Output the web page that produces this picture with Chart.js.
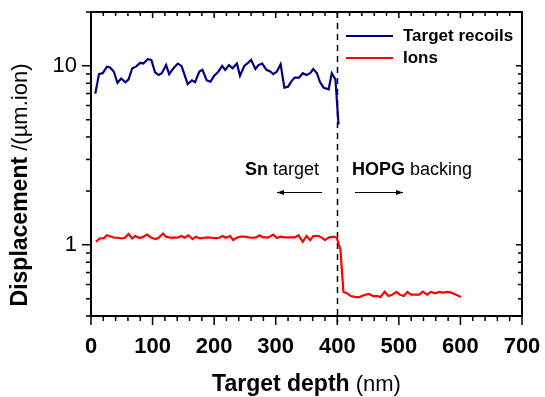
<!DOCTYPE html>
<html>
<head>
<meta charset="utf-8">
<title>Displacement vs target depth</title>
<script src="https://cdn.jsdelivr.net/npm/chart.js@4/dist/chart.umd.min.js"></script>
<style>
  body { margin: 0; background: #fff; }
</style>
</head>
<body>
<canvas id="myChart" width="545" height="397"></canvas>
<script>
// data (depth in nm, displacement per um per ion)
const recoilDepth = [7,13,19,26,31,37,43,49,56,61,67,73,80,85,92,98,104,110,115,122,
  127,134,141,147,152,157,164,169,176,181,188,194,200,206,213,218,224,230,237,242,
  249,255,260,267,272,278,285,291,296,302,308,314,320,326,331,338,344,350,356,361,
  367,372,378,386,391,397,402];
const recoils = [7.0,9.0,9.1,9.9,9.8,9.3,8.05,8.5,8.1,8.4,9.7,9.9,10.4,10.3,10.9,10.8,9.2,8.9,9.1,10.1,
  9.0,9.7,10.3,10.0,8.9,7.9,8.3,8.1,9.3,9.5,8.3,8.15,8.8,9.2,10.0,9.5,10.1,9.7,10.3,8.8,
  10.0,10.4,10.8,9.6,10.1,10.3,9.5,9.3,9.0,9.3,10.2,7.55,7.65,8.25,8.6,8.6,9.1,8.9,9.1,9.6,
  9.1,8.1,7.55,7.4,9.1,8.4,4.7];

const ionDepth = [8,14,21,26,33,38,44,50,55,61,67,72,79,85,91,98,105,110,117,122,
  129,135,140,147,152,158,165,170,177,184,189,196,203,208,214,219,226,231,238,244,
  250,256,263,268,274,279,288,296,302,308,315,323,331,337,344,350,356,361,370,374,
  380,387,394,399,405,410,416,422,430,436,443,451,458,465,470,477,483,489,496,502,
  508,514,520,526,533,539,546,552,559,565,572,579,585,593,601];
const ions = [1.04,1.085,1.09,1.13,1.11,1.095,1.095,1.085,1.095,1.15,1.085,1.12,1.09,1.11,1.14,1.095,1.076,1.095,1.157,1.11,
  1.095,1.10,1.095,1.12,1.095,1.13,1.076,1.11,1.085,1.095,1.10,1.095,1.09,1.095,1.12,1.095,1.12,1.063,1.10,1.11,
  1.11,1.10,1.095,1.10,1.13,1.10,1.10,1.14,1.09,1.11,1.10,1.10,1.10,1.13,1.04,1.12,1.063,1.12,1.12,1.10,
  1.063,1.10,1.11,1.095,0.946,0.547,0.535,0.517,0.51,0.51,0.522,0.532,0.517,0.517,0.51,0.547,0.517,0.525,0.545,0.525,
  0.517,0.545,0.527,0.527,0.527,0.547,0.527,0.545,0.535,0.545,0.54,0.545,0.54,0.525,0.51];

const xTicks = [0, 100, 200, 300, 400, 500, 600, 700];
const yTicks = [1, 10];
const interfaceDepth = 400;

const FONT = '"Liberation Sans", Arial, sans-serif';

function pairs(xs, ys) {
  return xs.map((x, i) => ({ x: x, y: ys[i] }));
}

// draws text made of bold / normal pieces on one line
function richText(ctx, parts, x, y, align) {
  let total = 0;
  parts.forEach(p => {
    ctx.font = (p.bold ? 'bold ' : '') + p.size + 'px ' + FONT;
    p.w = ctx.measureText(p.t).width;
    total += p.w;
  });
  let cx = align === 'center' ? x - total / 2 : x;
  ctx.textAlign = 'left';
  parts.forEach(p => {
    ctx.font = (p.bold ? 'bold ' : '') + p.size + 'px ' + FONT;
    ctx.fillText(p.t, cx, y);
    cx += p.w;
  });
}

function arrow(ctx, x1, x2, y) {
  ctx.beginPath();
  ctx.moveTo(x1, y);
  ctx.lineTo(x2, y);
  ctx.stroke();
  const d = x2 > x1 ? 1 : -1;
  ctx.beginPath();
  ctx.moveTo(x2, y);
  ctx.lineTo(x2 - d * 7, y - 2.5);
  ctx.lineTo(x2 - d * 7, y + 2.5);
  ctx.closePath();
  ctx.fill();
}

const decor = {
  id: 'decor',
  beforeDatasetsDraw(chart) {
    const ctx = chart.ctx, a = chart.chartArea;
    const xs = chart.scales.x;
    // interface line
    ctx.save();
    ctx.strokeStyle = '#000';
    ctx.lineWidth = 1.5;
    ctx.setLineDash([6, 5]);
    const px = Math.round(xs.getPixelForValue(interfaceDepth)) + 0.5;
    ctx.beginPath();
    ctx.moveTo(px, a.top);
    ctx.lineTo(px, a.bottom + 6);
    ctx.stroke();
    ctx.restore();
  },
  afterDraw(chart) {
    const ctx = chart.ctx, a = chart.chartArea;
    const xs = chart.scales.x, ys = chart.scales.y;
    ctx.save();
    ctx.strokeStyle = '#000';
    ctx.fillStyle = '#000';
    ctx.lineWidth = 2;
    ctx.strokeRect(a.left, a.top, a.right - a.left, a.bottom - a.top);

    // x ticks
    ctx.lineWidth = 1.5;
    for (let v = 0; v <= 700; v += 20) {
      const px = xs.getPixelForValue(v);
      const major = v % 100 === 0;
      ctx.beginPath();
      ctx.moveTo(px, a.bottom);
      ctx.lineTo(px, a.bottom + (major ? 9 : 5));
      ctx.moveTo(px, a.top);
      ctx.lineTo(px, a.top + (major ? 6 : 4));
      ctx.stroke();
    }
    // y ticks (log)
    const yMinor = [0.4, 0.5, 0.6, 0.7, 0.8, 0.9, 2, 3, 4, 5, 6, 7, 8, 9, 20];
    yMinor.concat(yTicks).forEach(v => {
      const py = ys.getPixelForValue(v);
      const major = yTicks.includes(v);
      ctx.beginPath();
      ctx.moveTo(a.left, py);
      ctx.lineTo(a.left - (major ? 9 : 5), py);
      ctx.moveTo(a.right, py);
      ctx.lineTo(a.right - (major ? 6 : 4), py);
      ctx.stroke();
    });

    // tick labels
    ctx.textBaseline = 'middle';
    ctx.textAlign = 'center';
    ctx.font = 'bold 22px ' + FONT;
    xTicks.forEach(v => ctx.fillText(String(v), xs.getPixelForValue(v), 347));
    ctx.textAlign = 'right';
    ctx.font = '22px ' + FONT;
    yTicks.forEach(v => ctx.fillText(String(v), a.left - 14, ys.getPixelForValue(v)));

    // axis titles
    richText(ctx, [{ t: 'Target depth', bold: true, size: 23 }, { t: ' (nm)', bold: false, size: 22 }],
      (a.left + a.right) / 2, 385, 'center');
    ctx.save();
    ctx.translate(21, 185);
    ctx.rotate(-Math.PI / 2);
    richText(ctx, [{ t: 'Displacement', bold: true, size: 23 }, { t: ' /(\u00b5m.ion)', bold: false, size: 22 }],
      0, 0, 'center');
    ctx.restore();

    // legend
    ctx.lineWidth = 2;
    [['Target recoils', '#000080', 36], ['Ions', '#ff0000', 58]].forEach(l => {
      ctx.strokeStyle = l[1];
      ctx.beginPath();
      ctx.moveTo(346, l[2]);
      ctx.lineTo(393, l[2]);
      ctx.stroke();
      ctx.fillStyle = '#000';
      ctx.font = 'bold 17px ' + FONT;
      ctx.textAlign = 'left';
      ctx.fillText(l[0], 403, l[2]);
    });

    // region annotations
    ctx.fillStyle = '#000';
    richText(ctx, [{ t: 'Sn', bold: true, size: 18 }, { t: ' target', bold: false, size: 18 }], 245, 170, 'left');
    richText(ctx, [{ t: 'HOPG', bold: true, size: 18 }, { t: ' backing', bold: false, size: 18 }], 352, 170, 'left');
    ctx.strokeStyle = '#000';
    ctx.lineWidth = 1;
    arrow(ctx, 322, 277, 192.5);
    arrow(ctx, 355, 403, 192.5);
    ctx.restore();
  }
};

const ctx = document.getElementById('myChart').getContext('2d');
new Chart(ctx, {
  type: 'line',
  data: {
    datasets: [
      { label: 'Target recoils', data: pairs(recoilDepth, recoils), borderColor: '#000080', borderWidth: 2.2, pointRadius: 0, tension: 0, fill: false },
      { label: 'Ions', data: pairs(ionDepth, ions), borderColor: '#ff0000', borderWidth: 2.2, pointRadius: 0, tension: 0, fill: false }
    ]
  },
  options: {
    responsive: false,
    animation: false,
    layout: { padding: { left: 91, right: 23, top: 12, bottom: 81 } },
    plugins: { legend: { display: false }, tooltip: { enabled: false } },
    scales: {
      x: { type: 'linear', min: 0, max: 700, display: false },
      y: { type: 'logarithmic', min: 0.4, max: 20, display: false }
    }
  },
  plugins: [decor]
});
</script>
</body>
</html>
